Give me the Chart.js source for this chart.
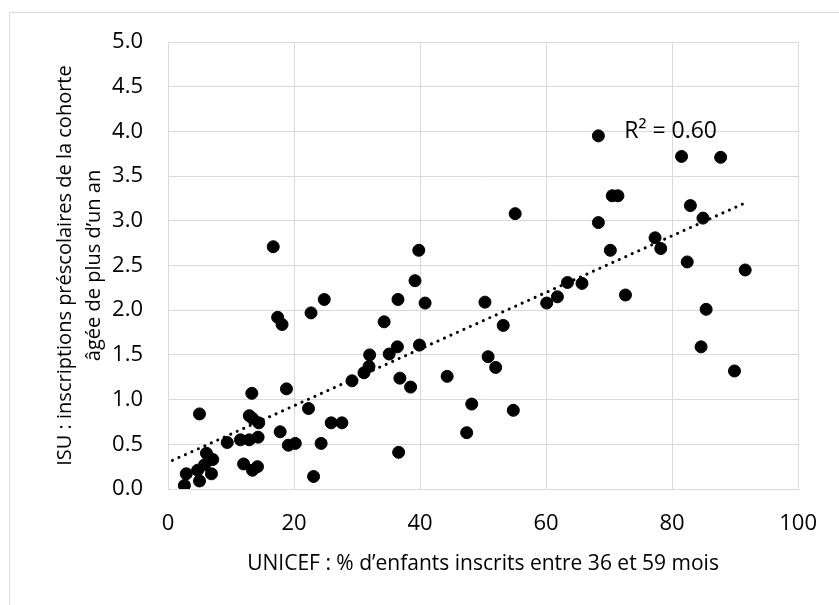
<!DOCTYPE html>
<html>
<head>
<meta charset="utf-8">
<script src="https://cdn.jsdelivr.net/npm/chart.js@4.4.1/dist/chart.umd.min.js"></script>
<style>
  html, body { margin: 0; padding: 0; background: #fff; }
  #wrap { width: 839px; height: 605px; }
</style>
</head>
<body>
<div id="wrap"><canvas id="scatterChart" width="839" height="605"></canvas></div>
<script>
// UNICEF % enrolled (36-59 months) vs ISU preschool ratio, one entry per country
const unicefPct = [
  2.6, 2.9, 5.0, 4.7, 6.9, 5.8, 6.1, 6.6, 7.1, 5.0,
  9.4, 11.5, 12.9, 12.0, 13.4, 14.2, 12.9, 13.4, 14.4, 14.3,
  13.3, 16.7, 17.4, 18.1, 17.8, 18.8, 19.1, 20.2, 22.3, 22.7,
  24.8, 24.3, 23.1, 25.9, 27.6, 29.2, 31.1, 31.9, 32.0, 34.3,
  35.1, 36.4, 36.5, 36.8, 36.6, 38.5, 39.2, 39.8, 39.9, 40.8,
  44.3, 47.4, 48.2, 50.3, 50.8, 52.0, 53.2, 54.8, 55.1, 60.1,
  61.8, 63.4, 65.7, 68.3, 68.3, 70.2, 70.5, 71.4, 72.6, 77.3,
  78.2, 81.5, 82.4, 82.9, 84.6, 84.9, 85.4, 87.7, 89.9, 91.6
];
const isuRatio = [
  0.04, 0.17, 0.09, 0.21, 0.17, 0.27, 0.40, 0.33, 0.33, 0.84,
  0.52, 0.55, 0.55, 0.28, 0.21, 0.25, 0.82, 0.79, 0.74, 0.58,
  1.07, 2.71, 1.92, 1.84, 0.64, 1.12, 0.49, 0.51, 0.90, 1.97,
  2.12, 0.51, 0.14, 0.74, 0.74, 1.21, 1.30, 1.37, 1.50, 1.87,
  1.51, 1.59, 2.12, 1.24, 0.41, 1.14, 2.33, 2.67, 1.61, 2.08,
  1.26, 0.63, 0.95, 2.09, 1.48, 1.36, 1.83, 0.88, 3.08, 2.08,
  2.15, 2.31, 2.30, 3.95, 2.98, 2.67, 3.28, 3.28, 2.17, 2.81,
  2.69, 3.72, 2.54, 3.17, 1.59, 3.03, 2.01, 3.71, 1.32, 2.45
];
const xTickValues = [0, 20, 40, 60, 80, 100];
const yTickValues = [0, 0.5, 1, 1.5, 2, 2.5, 3, 3.5, 4, 4.5, 5];

// dotted linear trendline, ends
const trendX = [0.7, 91.6];
const trendY = [0.32, 3.20];
const r2Text = 'R\u00b2 = 0.60';
const r2Anchor = [72.4, 4.0];

const xTitle = 'UNICEF : % d\u2019enfants inscrits entre 36 et 59 mois';
const yTitle = ['ISU : inscriptions pr\u00e9scolaires de la cohorte', '\u00e2g\u00e9e de plus d\u2019un an'];

const fontFamily = '"Open Sans", "Noto Sans", sans-serif';
const gridColor = '#d9d9d9';

const frame = {
  id: 'frame',
  beforeDraw(chart) {
    const ctx = chart.ctx;
    ctx.save();
    ctx.fillStyle = '#fff';
    ctx.fillRect(0, 0, chart.width, chart.height);
    ctx.strokeStyle = gridColor;
    ctx.lineWidth = 1;
    ctx.beginPath();
    ctx.moveTo(9.5, chart.height + 5);
    ctx.lineTo(9.5, 12.5);
    ctx.lineTo(chart.width + 5, 12.5);
    ctx.stroke();
    ctx.restore();
  }
};

const r2Label = {
  id: 'r2Label',
  afterDatasetsDraw(chart) {
    const { ctx, scales } = chart;
    ctx.save();
    ctx.font = '23px ' + fontFamily;
    ctx.fillStyle = '#000';
    ctx.textAlign = 'left';
    ctx.textBaseline = 'middle';
    ctx.fillText(r2Text, scales.x.getPixelForValue(r2Anchor[0]), scales.y.getPixelForValue(r2Anchor[1]));
    ctx.restore();
  }
};

new Chart(document.getElementById('scatterChart'), {
  type: 'scatter',
  data: {
    datasets: [{
      data: unicefPct.map((x, i) => ({ x, y: isuRatio[i] })),
      backgroundColor: '#000',
      borderColor: '#000',
      pointRadius: 6,
      borderWidth: 1
    }, {
      type: 'line',
      data: trendX.map((x, i) => ({ x, y: trendY[i] })),
      borderColor: '#000',
      borderWidth: 3,
      borderDash: [0.1, 7],
      borderCapStyle: 'round',
      pointRadius: 0,
      fill: false
    }]
  },
  options: {
    responsive: false,
    animation: false,
    layout: { padding: { top: 42, right: 38, left: 0, bottom: 0 } },
    plugins: { legend: { display: false }, tooltip: { enabled: false } },
    scales: {
      x: {
        type: 'linear',
        min: 0,
        max: 100,
        afterBuildTicks: (scale) => { scale.ticks = xTickValues.map((value) => ({ value })); },
        afterFit: (scale) => { scale.height = 116; },
        grid: { color: gridColor, drawTicks: false },
        border: { color: gridColor },
        ticks: { padding: 22, color: '#000', font: { family: fontFamily, size: 22 } },
        title: {
          display: true,
          text: xTitle,
          color: '#000',
          font: { family: fontFamily, size: 21 },
          padding: { top: 0, bottom: 28 }
        }
      },
      y: {
        min: 0,
        max: 5,
        afterBuildTicks: (scale) => { scale.ticks = yTickValues.map((value) => ({ value })); },
        afterFit: (scale) => { scale.width = 168; },
        grid: { color: gridColor, drawTicks: false },
        border: { color: gridColor },
        ticks: {
          padding: 25,
          color: '#000',
          font: { family: fontFamily, size: 22 },
          callback: (v) => Number(v).toFixed(1)
        },
        title: {
          display: true,
          text: yTitle,
          color: '#000',
          font: { family: fontFamily, size: 20, lineHeight: 1.45 },
          padding: { top: 51, bottom: 0 }
        }
      }
    }
  },
  plugins: [frame, r2Label]
});
</script>
</body>
</html>
